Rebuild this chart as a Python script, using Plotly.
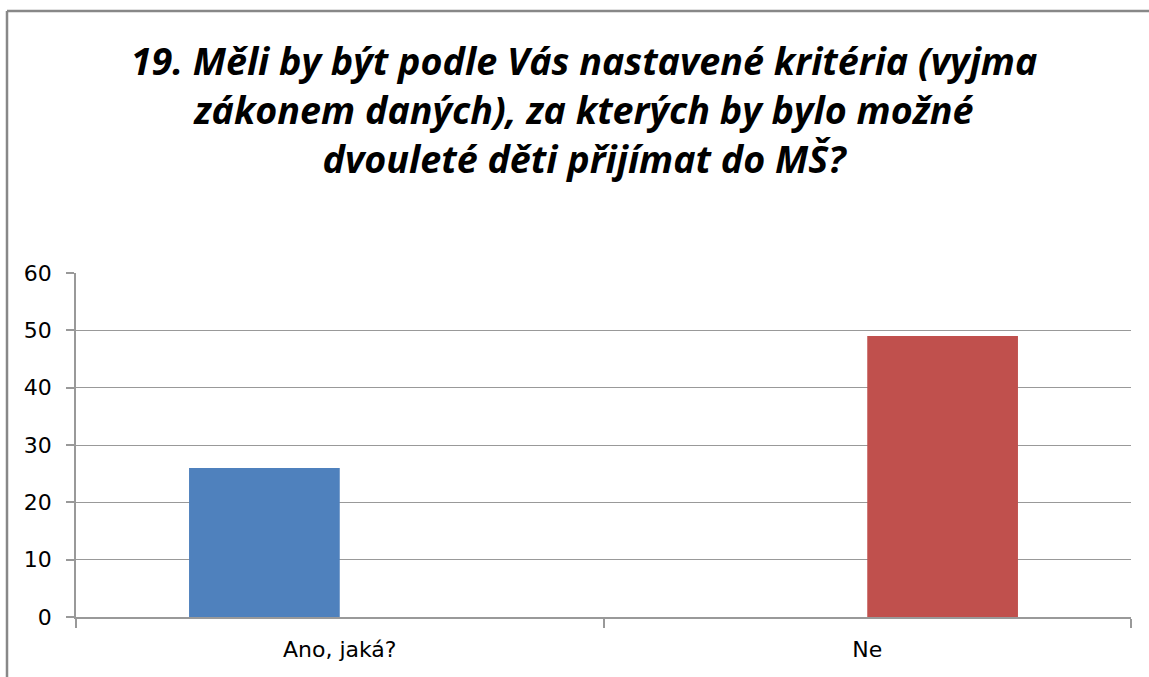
import plotly.graph_objects as go

categories = ["Ano, jaká?", "Ne"]
values = [26, 49]
colors = ["#4F81BD", "#C0504D"]
title_lines = [
    "19. Měli by být podle Vás nastavené kritéria (vyjma",
    "zákonem daných), za kterých by bylo možné",
    "dvouleté děti přijímat do MŠ?",
]
y_ticks = [0, 10, 20, 30, 40, 50, 60]

W, H = 1149, 677
L, R, T, B = 76, 18, 273, 60

fig = go.Figure()
for i, (cat, val, col) in enumerate(zip(categories, values, colors)):
    fig.add_trace(go.Bar(x=[cat], y=[val], marker=dict(color=col, line=dict(width=0)),
                         name=cat, showlegend=False, offsetgroup=str(i)))

pw = W - L - R
ph = H - T - B
def px_to_paper_x(px):
    return (px - L) / pw
def px_to_paper_y(py):
    return (H - B - py) / ph

tick_font = dict(size=22, family="DejaVu Sans", color="black")
frame = dict(color="#888888", width=2.5)
fig.update_layout(
    width=W, height=H,
    margin=dict(l=L, r=R, t=T, b=B),
    paper_bgcolor="white", plot_bgcolor="white",
    barmode="group", bargap=1.5 / 3.5, bargroupgap=0,
    title=dict(text="<br>".join(title_lines), x=584 / W, xanchor="center",
               y=1 - 75 / H, yanchor="top", yref="container",
               font=dict(family="Open Sans", size=37.7, color="black", weight="bold", style="italic")),
    font=dict(family="DejaVu Sans", size=22, color="black"),
    xaxis=dict(type="category", categoryorder="array", categoryarray=categories,
               showline=True, linecolor="#999999", linewidth=1.5,
               ticks="outside", tickson="boundaries", ticklen=9, tickcolor="#999999", tickwidth=1.5,
               showgrid=False, ticklabelstandoff=12, tickfont=tick_font),
    yaxis=dict(range=[0, 60], tickvals=y_ticks, showline=True, linecolor="#999999", linewidth=1.5,
               ticks="outside", ticklen=8, tickcolor="#999999", tickwidth=1.5,
               showgrid=True, gridcolor="#999999", gridwidth=1.2, zeroline=False,
               ticklabelstandoff=10, tickfont=tick_font),
    shapes=[
        dict(type="line", xref="paper", yref="paper",
             x0=px_to_paper_x(7), x1=px_to_paper_x(7),
             y0=px_to_paper_y(H), y1=px_to_paper_y(11), line=frame, layer="above"),
        dict(type="line", xref="paper", yref="paper",
             x0=px_to_paper_x(7), x1=px_to_paper_x(W),
             y0=px_to_paper_y(11), y1=px_to_paper_y(11), line=frame, layer="above"),
    ],
)

fig.write_html("out.html", config={"displayModeBar": False},
               post_script="document.body.style.margin='0';")
